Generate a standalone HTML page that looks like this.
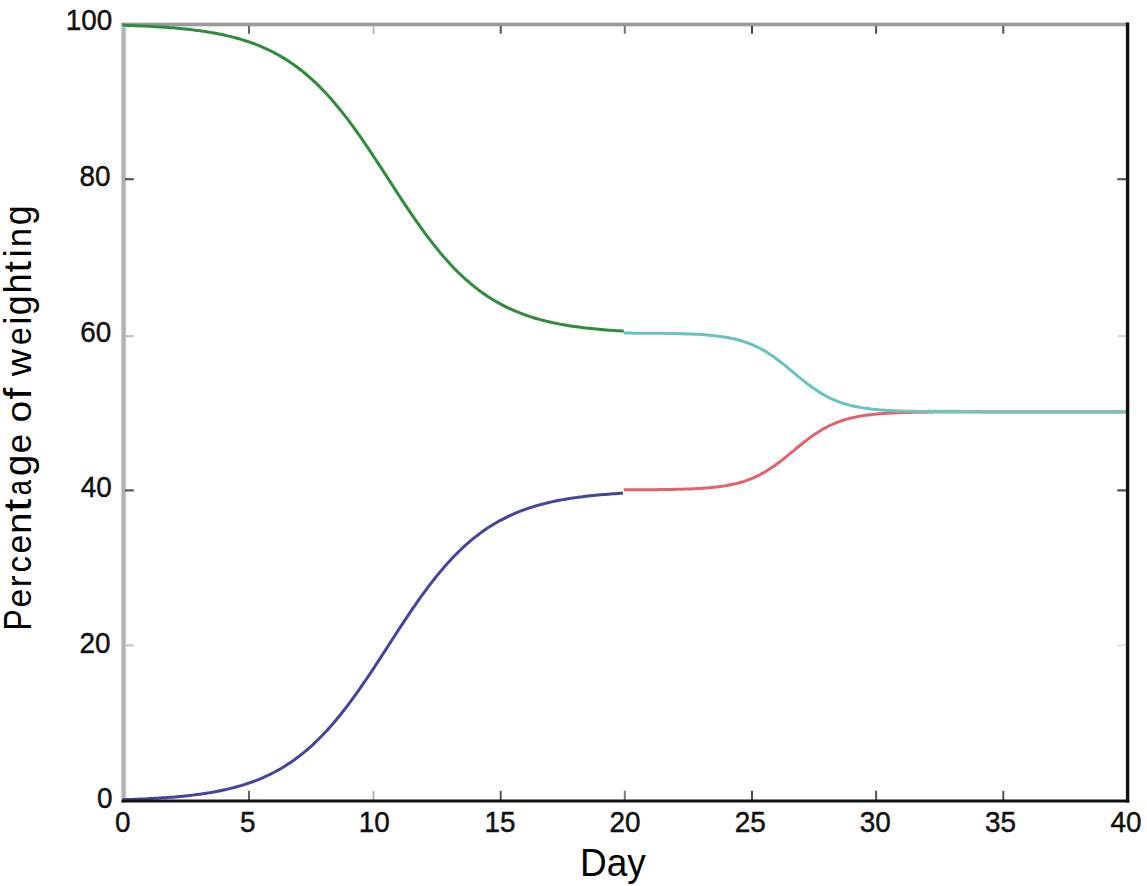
<!DOCTYPE html>
<html><head><meta charset="utf-8"><style>
html,body{margin:0;padding:0;background:#fff;}
body{width:1147px;height:886px;overflow:hidden;}
svg{display:block;}
#w{width:1147px;height:886px;}
.t{font-family:"Liberation Sans",sans-serif;font-size:29.5px;fill:#111;stroke:#111;stroke-width:0.45px;}
.l{font-family:"Liberation Sans",sans-serif;font-size:38px;fill:#000;}
</style></head><body>
<div id="w">
<svg width="1147" height="886" viewBox="0 0 1147 886">
<rect width="1147" height="886" fill="#fff"/>
<line x1="123.6" y1="22.5" x2="123.6" y2="802.5" stroke="#e6e6e6" stroke-width="6"/><line x1="123.6" y1="22.5" x2="123.6" y2="802.5" stroke="#b0b0b0" stroke-width="3.8"/>
<line x1="121.5" y1="24.6" x2="1128" y2="24.6" stroke="#e2e2e2" stroke-width="5.2"/><line x1="121.5" y1="24.6" x2="1128" y2="24.6" stroke="#9a9a9a" stroke-width="3.0"/>
<line x1="125" y1="179.2" x2="133.8" y2="179.2" stroke="#555" stroke-width="2.2"/>
<line x1="1117.3" y1="179.2" x2="1126" y2="179.2" stroke="#555" stroke-width="2.2"/>
<line x1="125" y1="336.2" x2="133.8" y2="336.2" stroke="#c4c4c4" stroke-width="2.2"/>
<line x1="1117.3" y1="336.2" x2="1126" y2="336.2" stroke="#d8d8d8" stroke-width="2.2"/>
<line x1="125" y1="490.4" x2="133.8" y2="490.4" stroke="#555" stroke-width="2.2"/>
<line x1="1117.3" y1="490.4" x2="1126" y2="490.4" stroke="#4a4a4a" stroke-width="2.2"/>
<line x1="125" y1="645.4" x2="133.8" y2="645.4" stroke="#c8c8c8" stroke-width="2.2"/>
<line x1="1117.3" y1="645.4" x2="1126" y2="645.4" stroke="#e2e2e2" stroke-width="2.2"/>
<line x1="249.0" y1="790.8" x2="249.0" y2="800" stroke="#666" stroke-width="2"/>
<line x1="249.0" y1="26" x2="249.0" y2="33.8" stroke="#666" stroke-width="2"/>
<line x1="373.5" y1="790.8" x2="373.5" y2="800" stroke="#b8b8b8" stroke-width="2"/>
<line x1="373.5" y1="26" x2="373.5" y2="33.8" stroke="#b8b8b8" stroke-width="2"/>
<line x1="500.7" y1="790.8" x2="500.7" y2="800" stroke="#555" stroke-width="2"/>
<line x1="500.7" y1="26" x2="500.7" y2="33.8" stroke="#555" stroke-width="2"/>
<line x1="624.8" y1="790.8" x2="624.8" y2="800" stroke="#777" stroke-width="2"/>
<line x1="624.8" y1="26" x2="624.8" y2="33.8" stroke="#777" stroke-width="2"/>
<line x1="752.0" y1="790.8" x2="752.0" y2="800" stroke="#4a4a4a" stroke-width="2"/>
<line x1="752.0" y1="26" x2="752.0" y2="33.8" stroke="#4a4a4a" stroke-width="2"/>
<line x1="876.1" y1="790.8" x2="876.1" y2="800" stroke="#555" stroke-width="2"/>
<line x1="876.1" y1="26" x2="876.1" y2="33.8" stroke="#555" stroke-width="2"/>
<line x1="1003.3" y1="790.8" x2="1003.3" y2="800" stroke="#555" stroke-width="2"/>
<line x1="1003.3" y1="26" x2="1003.3" y2="33.8" stroke="#555" stroke-width="2"/>
<path d="M122.50,25.25 L125.00,25.33 L127.51,25.41 L130.02,25.50 L132.52,25.59 L135.03,25.69 L137.54,25.79 L140.04,25.89 L142.55,26.00 L145.06,26.12 L147.56,26.24 L150.07,26.37 L152.57,26.51 L155.08,26.65 L157.59,26.80 L160.09,26.96 L162.60,27.12 L165.11,27.30 L167.61,27.48 L170.12,27.67 L172.63,27.87 L175.13,28.08 L177.64,28.30 L180.15,28.53 L182.65,28.78 L185.16,29.03 L187.67,29.30 L190.17,29.58 L192.68,29.88 L195.19,30.19 L197.69,30.51 L200.20,30.85 L202.70,31.21 L205.21,31.58 L207.72,31.98 L210.22,32.39 L212.73,32.82 L215.24,33.27 L217.74,33.75 L220.25,34.25 L222.76,34.77 L225.26,35.31 L227.77,35.88 L230.28,36.48 L232.78,37.11 L235.29,37.76 L237.80,38.45 L240.30,39.17 L242.81,39.92 L245.32,40.71 L247.82,41.53 L250.33,42.38 L252.84,43.28 L255.34,44.22 L257.85,45.20 L260.35,46.22 L262.86,47.28 L265.37,48.39 L267.87,49.55 L270.38,50.76 L272.89,52.02 L275.39,53.33 L277.90,54.70 L280.41,56.12 L282.91,57.60 L285.42,59.14 L287.93,60.74 L290.43,62.40 L292.94,64.12 L295.45,65.91 L297.95,67.76 L300.46,69.69 L302.97,71.68 L305.47,73.74 L307.98,75.87 L310.49,78.07 L312.99,80.35 L315.50,82.70 L318.00,85.12 L320.51,87.62 L323.02,90.19 L325.52,92.84 L328.03,95.56 L330.54,98.36 L333.04,101.23 L335.55,104.17 L338.06,107.18 L340.56,110.26 L343.07,113.41 L345.58,116.63 L348.08,119.91 L350.59,123.26 L353.10,126.67 L355.60,130.13 L358.11,133.65 L360.62,137.22 L363.12,140.84 L365.63,144.51 L368.14,148.21 L370.64,151.95 L373.15,155.72 L375.65,159.53 L378.16,163.35 L380.67,167.19 L383.17,171.05 L385.68,174.92 L388.19,178.80 L390.69,182.67 L393.20,186.54 L395.71,190.40 L398.21,194.24 L400.72,198.07 L403.23,201.87 L405.73,205.64 L408.24,209.38 L410.75,213.09 L413.25,216.75 L415.76,220.37 L418.27,223.94 L420.77,227.46 L423.28,230.93 L425.79,234.33 L428.29,237.68 L430.80,240.96 L433.30,244.18 L435.81,247.34 L438.32,250.42 L440.82,253.43 L443.33,256.37 L445.84,259.24 L448.34,262.04 L450.85,264.76 L453.36,267.41 L455.86,269.98 L458.37,272.48 L460.88,274.90 L463.38,277.25 L465.89,279.53 L468.40,281.74 L470.90,283.87 L473.41,285.93 L475.92,287.92 L478.42,289.85 L480.93,291.70 L483.43,293.49 L485.94,295.21 L488.45,296.88 L490.95,298.47 L493.46,300.01 L495.97,301.49 L498.47,302.91 L500.98,304.28 L503.49,305.59 L505.99,306.85 L508.50,308.06 L511.01,309.22 L513.51,310.34 L516.02,311.40 L518.53,312.42 L521.03,313.40 L523.54,314.34 L526.05,315.24 L528.55,316.09 L531.06,316.91 L533.57,317.70 L536.07,318.45 L538.58,319.17 L541.08,319.86 L543.59,320.51 L546.10,321.14 L548.60,321.74 L551.11,322.31 L553.62,322.86 L556.12,323.38 L558.63,323.87 L561.14,324.35 L563.64,324.80 L566.15,325.23 L568.66,325.65 L571.16,326.04 L573.67,326.41 L576.18,326.77 L578.68,327.11 L581.19,327.44 L583.70,327.75 L586.20,328.04 L588.71,328.32 L591.22,328.59 L593.72,328.85 L596.23,329.09 L598.73,329.32 L601.24,329.55 L603.75,329.76 L606.25,329.96 L608.76,330.15 L611.27,330.33 L613.77,330.50 L616.28,330.67 L618.79,330.83 L621.29,330.98 L623.80,331.12" fill="none" stroke="#318a3e" stroke-width="3.0"/>
<path d="M122.50,799.75 L125.00,799.67 L127.50,799.59 L130.00,799.50 L132.51,799.41 L135.01,799.31 L137.51,799.21 L140.02,799.10 L142.52,798.99 L145.02,798.88 L147.52,798.75 L150.03,798.62 L152.53,798.49 L155.03,798.35 L157.53,798.20 L160.04,798.04 L162.54,797.87 L165.04,797.70 L167.55,797.52 L170.05,797.33 L172.55,797.13 L175.05,796.92 L177.56,796.70 L180.06,796.46 L182.56,796.22 L185.07,795.97 L187.57,795.70 L190.07,795.42 L192.57,795.12 L195.08,794.81 L197.58,794.49 L200.08,794.15 L202.58,793.79 L205.09,793.42 L207.59,793.02 L210.09,792.61 L212.60,792.18 L215.10,791.73 L217.60,791.26 L220.10,790.76 L222.61,790.24 L225.11,789.69 L227.61,789.12 L230.11,788.53 L232.62,787.90 L235.12,787.25 L237.62,786.56 L240.13,785.85 L242.63,785.10 L245.13,784.32 L247.63,783.50 L250.14,782.64 L252.64,781.75 L255.14,780.81 L257.65,779.84 L260.15,778.82 L262.65,777.76 L265.15,776.65 L267.66,775.49 L270.16,774.29 L272.66,773.03 L275.16,771.72 L277.67,770.36 L280.17,768.94 L282.67,767.47 L285.18,765.93 L287.68,764.34 L290.18,762.69 L292.68,760.97 L295.19,759.18 L297.69,757.33 L300.19,755.42 L302.69,753.43 L305.20,751.38 L307.70,749.25 L310.20,747.05 L312.71,744.78 L315.21,742.44 L317.71,740.02 L320.21,737.53 L322.72,734.97 L325.22,732.33 L327.72,729.61 L330.23,726.83 L332.73,723.96 L335.23,721.03 L337.73,718.03 L340.24,714.95 L342.74,711.80 L345.24,708.59 L347.74,705.31 L350.25,701.97 L352.75,698.57 L355.25,695.11 L357.76,691.60 L360.26,688.03 L362.76,684.42 L365.26,680.76 L367.77,677.06 L370.27,673.32 L372.77,669.55 L375.27,665.74 L377.78,661.92 L380.28,658.08 L382.78,654.22 L385.29,650.35 L387.79,646.47 L390.29,642.59 L392.79,638.72 L395.30,634.86 L397.80,631.01 L400.30,627.18 L402.80,623.37 L405.31,619.58 L407.81,615.83 L410.31,612.12 L412.82,608.45 L415.32,604.82 L417.82,601.23 L420.32,597.70 L422.83,594.22 L425.33,590.80 L427.83,587.44 L430.34,584.14 L432.84,580.91 L435.34,577.74 L437.84,574.64 L440.35,571.61 L442.85,568.66 L445.35,565.77 L447.85,562.96 L450.36,560.22 L452.86,557.56 L455.36,554.97 L457.87,552.45 L460.37,550.01 L462.87,547.64 L465.37,545.35 L467.88,543.13 L470.38,540.98 L472.88,538.90 L475.38,536.89 L477.89,534.95 L480.39,533.08 L482.89,531.28 L485.40,529.54 L487.90,527.86 L490.40,526.25 L492.90,524.70 L495.41,523.20 L497.91,521.77 L500.41,520.39 L502.92,519.06 L505.42,517.79 L507.92,516.57 L510.42,515.39 L512.93,514.27 L515.43,513.19 L517.93,512.16 L520.43,511.17 L522.94,510.22 L525.44,509.31 L527.94,508.45 L530.45,507.62 L532.95,506.82 L535.45,506.06 L537.95,505.33 L540.46,504.64 L542.96,503.98 L545.46,503.34 L547.96,502.73 L550.47,502.16 L552.97,501.60 L555.47,501.07 L557.98,500.57 L560.48,500.09 L562.98,499.63 L565.48,499.19 L567.99,498.78 L570.49,498.38 L572.99,498.00 L575.49,497.63 L578.00,497.29 L580.50,496.96 L583.00,496.64 L585.51,496.34 L588.01,496.06 L590.51,495.79 L593.01,495.53 L595.52,495.28 L598.02,495.04 L600.52,494.82 L603.03,494.61 L605.53,494.40 L608.03,494.21 L610.53,494.02 L613.04,493.85 L615.54,493.68 L618.04,493.52 L620.54,493.37 L623.05,493.22" fill="none" stroke="#45459f" stroke-width="3.0"/>
<path d="M623.80,489.80 L625.35,489.80 L626.90,489.80 L628.45,489.79 L630.00,489.79 L631.55,489.78 L633.10,489.78 L634.65,489.77 L636.20,489.76 L637.75,489.76 L639.31,489.75 L640.86,489.74 L642.41,489.73 L643.96,489.73 L645.51,489.72 L647.06,489.71 L648.61,489.70 L650.16,489.68 L651.71,489.67 L653.26,489.66 L654.81,489.65 L656.36,489.63 L657.91,489.61 L659.46,489.60 L661.01,489.58 L662.56,489.56 L664.11,489.54 L665.66,489.52 L667.21,489.50 L668.77,489.47 L670.32,489.44 L671.87,489.42 L673.42,489.39 L674.97,489.35 L676.52,489.32 L678.07,489.28 L679.62,489.24 L681.17,489.20 L682.72,489.16 L684.27,489.11 L685.82,489.06 L687.37,489.01 L688.92,488.95 L690.47,488.89 L692.02,488.82 L693.57,488.75 L695.12,488.68 L696.68,488.60 L698.23,488.51 L699.78,488.42 L701.33,488.33 L702.88,488.22 L704.43,488.12 L705.98,488.00 L707.53,487.88 L709.08,487.74 L710.63,487.61 L712.18,487.46 L713.73,487.30 L715.28,487.13 L716.83,486.95 L718.38,486.76 L719.93,486.56 L721.48,486.34 L723.03,486.12 L724.58,485.87 L726.14,485.62 L727.69,485.35 L729.24,485.06 L730.79,484.75 L732.34,484.43 L733.89,484.09 L735.44,483.72 L736.99,483.34 L738.54,482.94 L740.09,482.51 L741.64,482.06 L743.19,481.59 L744.74,481.09 L746.29,480.56 L747.84,480.01 L749.39,479.43 L750.94,478.82 L752.49,478.18 L754.04,477.51 L755.60,476.81 L757.15,476.08 L758.70,475.32 L760.25,474.52 L761.80,473.69 L763.35,472.83 L764.90,471.94 L766.45,471.02 L768.00,470.06 L769.55,469.07 L771.10,468.05 L772.65,467.00 L774.20,465.93 L775.75,464.82 L777.30,463.69 L778.85,462.53 L780.40,461.35 L781.95,460.15 L783.51,458.93 L785.06,457.69 L786.61,456.44 L788.16,455.18 L789.71,453.91 L791.26,452.63 L792.81,451.35 L794.36,450.06 L795.91,448.78 L797.46,447.51 L799.01,446.24 L800.56,444.98 L802.11,443.73 L803.66,442.49 L805.21,441.28 L806.76,440.08 L808.31,438.91 L809.86,437.76 L811.41,436.63 L812.97,435.53 L814.52,434.46 L816.07,433.42 L817.62,432.41 L819.17,431.43 L820.72,430.48 L822.27,429.56 L823.82,428.67 L825.37,427.82 L826.92,427.00 L828.47,426.22 L830.02,425.46 L831.57,424.74 L833.12,424.04 L834.67,423.38 L836.22,422.75 L837.77,422.15 L839.32,421.57 L840.87,421.03 L842.43,420.51 L843.98,420.01 L845.53,419.54 L847.08,419.10 L848.63,418.68 L850.18,418.28 L851.73,417.90 L853.28,417.54 L854.83,417.21 L856.38,416.89 L857.93,416.59 L859.48,416.30 L861.03,416.03 L862.58,415.78 L864.13,415.54 L865.68,415.32 L867.23,415.11 L868.78,414.91 L870.34,414.72 L871.89,414.54 L873.44,414.38 L874.99,414.22 L876.54,414.07 L878.09,413.94 L879.64,413.81 L881.19,413.68 L882.74,413.57 L884.29,413.46 L885.84,413.36 L887.39,413.27 L888.94,413.18 L890.49,413.10 L892.04,413.02 L893.59,412.94 L895.14,412.88 L896.69,412.81 L898.24,412.75 L899.80,412.69 L901.35,412.64 L902.90,412.59 L904.45,412.54 L906.00,412.50 L907.55,412.46 L909.10,412.42 L910.65,412.38 L912.20,412.35 L913.75,412.32 L915.30,412.29 L916.85,412.26 L918.40,412.24 L919.95,412.21 L921.50,412.19 L923.05,412.17 L924.60,412.15 L926.15,412.13 L927.70,412.11 L929.26,412.09 L930.81,412.08 L932.36,412.06 L933.91,412.05" fill="none" stroke="#e2646b" stroke-width="3.0"/>
<defs><linearGradient id="cg" gradientUnits="userSpaceOnUse" x1="890" y1="0" x2="960" y2="0"><stop offset="0" stop-color="#66c3bf"/><stop offset="1" stop-color="#84bdb9"/></linearGradient></defs>
<path d="M623.80,333.10 L626.32,333.10 L628.83,333.11 L631.35,333.12 L633.87,333.13 L636.38,333.14 L638.90,333.15 L641.42,333.16 L643.93,333.18 L646.45,333.19 L648.96,333.21 L651.48,333.23 L654.00,333.25 L656.51,333.27 L659.03,333.30 L661.55,333.33 L664.06,333.36 L666.58,333.40 L669.10,333.44 L671.61,333.48 L674.13,333.53 L676.65,333.59 L679.16,333.65 L681.68,333.72 L684.20,333.79 L686.71,333.88 L689.23,333.97 L691.75,334.08 L694.26,334.19 L696.78,334.32 L699.29,334.46 L701.81,334.62 L704.33,334.79 L706.84,334.99 L709.36,335.20 L711.88,335.44 L714.39,335.70 L716.91,335.99 L719.43,336.30 L721.94,336.66 L724.46,337.04 L726.98,337.47 L729.49,337.94 L732.01,338.45 L734.53,339.02 L737.04,339.63 L739.56,340.31 L742.08,341.05 L744.59,341.85 L747.11,342.72 L749.62,343.66 L752.14,344.68 L754.66,345.78 L757.17,346.97 L759.69,348.23 L762.21,349.59 L764.72,351.03 L767.24,352.55 L769.76,354.16 L772.27,355.85 L774.79,357.62 L777.31,359.47 L779.82,361.37 L782.34,363.34 L784.86,365.35 L787.37,367.41 L789.89,369.49 L792.41,371.59 L794.92,373.69 L797.44,375.78 L799.95,377.86 L802.47,379.91 L804.99,381.91 L807.50,383.87 L810.02,385.76 L812.54,387.59 L815.05,389.34 L817.57,391.02 L820.09,392.61 L822.60,394.12 L825.12,395.54 L827.64,396.87 L830.15,398.12 L832.67,399.29 L835.19,400.37 L837.70,401.38 L840.22,402.31 L842.74,403.16 L845.25,403.95 L847.77,404.67 L850.28,405.34 L852.80,405.94 L855.32,406.50 L857.83,407.00 L860.35,407.46 L862.87,407.88 L865.38,408.26 L867.90,408.60 L870.42,408.91 L872.93,409.20 L875.45,409.45 L877.97,409.68 L880.48,409.89 L883.00,410.08 L885.52,410.25 L888.03,410.41 L890.55,410.55 L893.07,410.67 L895.58,410.78 L898.10,410.89 L900.62,410.98 L903.13,411.06 L905.65,411.13 L908.16,411.20 L910.68,411.26 L913.20,411.32 L915.71,411.36 L918.23,411.41 L920.75,411.45 L923.26,411.48 L925.78,411.52 L928.30,411.54 L930.81,411.57 L933.33,411.59 L935.85,411.61 L938.36,411.63 L940.88,411.65 L943.40,411.66 L945.91,411.68 L948.43,411.69 L950.94,411.70 L953.46,411.71 L955.98,411.72 L958.49,411.73 L961.01,411.74 L963.53,411.74 L966.04,411.75 L968.56,411.75 L971.08,411.76 L973.59,411.76 L976.11,411.77 L978.63,411.77 L981.14,411.77 L983.66,411.78 L986.18,411.78 L988.69,411.78 L991.21,411.78 L993.73,411.78 L996.24,411.79 L998.76,411.79 L1001.27,411.79 L1003.79,411.79 L1006.31,411.79 L1008.82,411.79 L1011.34,411.79 L1013.86,411.79 L1016.37,411.79 L1018.89,411.79 L1021.41,411.80 L1023.92,411.80 L1026.44,411.80 L1028.96,411.80 L1031.47,411.80 L1033.99,411.80 L1036.51,411.80 L1039.02,411.80 L1041.54,411.80 L1044.06,411.80 L1046.57,411.80 L1049.09,411.80 L1051.61,411.80 L1054.12,411.80 L1056.64,411.80 L1059.15,411.80 L1061.67,411.80 L1064.19,411.80 L1066.70,411.80 L1069.22,411.80 L1071.74,411.80 L1074.25,411.80 L1076.77,411.80 L1079.29,411.80 L1081.80,411.80 L1084.32,411.80 L1086.84,411.80 L1089.35,411.80 L1091.87,411.80 L1094.39,411.80 L1096.90,411.80 L1099.42,411.80 L1101.93,411.80 L1104.45,411.80 L1106.97,411.80 L1109.48,411.80 L1112.00,411.80 L1114.52,411.80 L1117.03,411.80 L1119.55,411.80 L1122.07,411.80 L1124.58,411.80 L1127.10,411.80" fill="none" stroke="url(#cg)" stroke-width="3.0"/>
<path d="M926.38,411.52 L929.73,411.56 L933.07,411.59 L936.42,411.62 L939.76,411.64 L943.11,411.66 L946.45,411.68 L949.80,411.70 L953.14,411.71 L956.49,411.72 L959.83,411.73 L963.18,411.74 L966.52,411.75 L969.87,411.76 L973.21,411.76 L976.56,411.77 L979.91,411.77 L983.25,411.78 L986.60,411.78 L989.94,411.78 L993.29,411.78 L996.63,411.79 L999.98,411.79 L1003.32,411.79 L1006.67,411.79 L1010.01,411.79 L1013.36,411.79 L1016.70,411.79 L1020.05,411.79 L1023.39,411.80 L1026.74,411.80 L1030.09,411.80 L1033.43,411.80 L1036.78,411.80 L1040.12,411.80 L1043.47,411.80 L1046.81,411.80 L1050.16,411.80 L1053.50,411.80 L1056.85,411.80 L1060.19,411.80 L1063.54,411.80 L1066.88,411.80 L1070.23,411.80 L1073.57,411.80 L1076.92,411.80 L1080.27,411.80 L1083.61,411.80 L1086.96,411.80 L1090.30,411.80 L1093.65,411.80 L1096.99,411.80 L1100.34,411.80 L1103.68,411.80 L1107.03,411.80 L1110.37,411.80 L1113.72,411.80 L1117.06,411.80 L1120.41,411.80 L1123.75,411.80 L1127.10,411.80" fill="none" stroke="url(#cg)" stroke-width="3.7"/>
<line x1="1127.6" y1="22.5" x2="1127.6" y2="802.5" stroke="#111" stroke-width="3.4"/>
<line x1="121.5" y1="801" x2="1129.3" y2="801" stroke="#111" stroke-width="3.2"/>
<text transform="translate(112.40 807.70) scale(0.945 1)" text-anchor="end" class="t">0</text>
<text transform="translate(110.60 652.60) scale(0.945 1)" text-anchor="end" class="t">20</text>
<text transform="translate(111.80 497.40) scale(0.945 1)" text-anchor="end" class="t">40</text>
<text transform="translate(111.20 341.60) scale(0.945 1)" text-anchor="end" class="t">60</text>
<text transform="translate(110.60 185.70) scale(0.945 1)" text-anchor="end" class="t">80</text>
<text transform="translate(112.30 30.35) scale(0.945 1)" text-anchor="end" class="t">100</text>
<text transform="translate(122.80 831.90) scale(0.945 1)" text-anchor="middle" class="t">0</text>
<text transform="translate(247.75 831.80) scale(0.945 1)" text-anchor="middle" class="t">5</text>
<text transform="translate(374.25 831.80) scale(0.945 1)" text-anchor="middle" class="t">10</text>
<text transform="translate(499.95 831.80) scale(0.945 1)" text-anchor="middle" class="t">15</text>
<text transform="translate(624.95 831.80) scale(0.945 1)" text-anchor="middle" class="t">20</text>
<text transform="translate(750.15 831.80) scale(0.945 1)" text-anchor="middle" class="t">25</text>
<text transform="translate(875.25 831.80) scale(0.945 1)" text-anchor="middle" class="t">30</text>
<text transform="translate(1000.45 831.80) scale(0.945 1)" text-anchor="middle" class="t">35</text>
<text transform="translate(1126.05 831.80) scale(0.945 1)" text-anchor="middle" class="t">40</text>
<text transform="translate(612.9 876) scale(0.974 1)" text-anchor="middle" class="l">Day</text>
<text transform="translate(31.2 619.50) rotate(-90) scale(0.841 1.0)" x="-13.23" class="l">P</text>
<text transform="translate(31.2 598.15) rotate(-90) scale(0.892 0.9)" x="-10.53" class="l">e</text>
<text transform="translate(31.2 580.35) rotate(-90) scale(0.937 0.9)" x="-7.27" class="l">r</text>
<text transform="translate(31.2 563.95) rotate(-90) scale(0.861 0.9)" x="-9.81" class="l">c</text>
<text transform="translate(31.2 544.10) rotate(-90) scale(0.886 0.9)" x="-10.53" class="l">e</text>
<text transform="translate(31.2 523.30) rotate(-90) scale(1.016 0.9)" x="-10.59" class="l">n</text>
<text transform="translate(31.2 505.25) rotate(-90) scale(1.268 1.0)" x="-5.43" class="l">t</text>
<text transform="translate(31.2 487.20) rotate(-90) scale(0.717 0.9)" x="-11.37" class="l">a</text>
<text transform="translate(31.2 465.70) rotate(-90) scale(1.007 1.0)" x="-10.14" class="l">g</text>
<text transform="translate(31.2 443.70) rotate(-90) scale(0.909 0.9)" x="-10.53" class="l">e</text>
<text transform="translate(31.2 411.60) rotate(-90) scale(1.026 0.9)" x="-10.57" class="l">o</text>
<text transform="translate(31.2 393.25) rotate(-90) scale(1.102 1.0)" x="-5.58" class="l">f</text>
<text transform="translate(31.2 362.70) rotate(-90) scale(0.993 0.9)" x="-13.74" class="l">w</text>
<text transform="translate(31.2 336.20) rotate(-90) scale(0.841 0.9)" x="-10.53" class="l">e</text>
<text transform="translate(31.2 320.70) rotate(-90) scale(0.958 1.0)" x="-4.21" class="l">i</text>
<text transform="translate(31.2 305.75) rotate(-90) scale(0.942 1.0)" x="-10.14" class="l">g</text>
<text transform="translate(31.2 283.50) rotate(-90) scale(0.948 1.0)" x="-10.65" class="l">h</text>
<text transform="translate(31.2 266.55) rotate(-90) scale(1.082 1.0)" x="-5.43" class="l">t</text>
<text transform="translate(31.2 253.25) rotate(-90) scale(0.928 1.0)" x="-4.21" class="l">i</text>
<text transform="translate(31.2 237.50) rotate(-90) scale(0.892 0.9)" x="-10.59" class="l">n</text>
<text transform="translate(31.2 215.75) rotate(-90) scale(0.942 1.0)" x="-10.14" class="l">g</text>
</svg>
</div>
</body></html>
